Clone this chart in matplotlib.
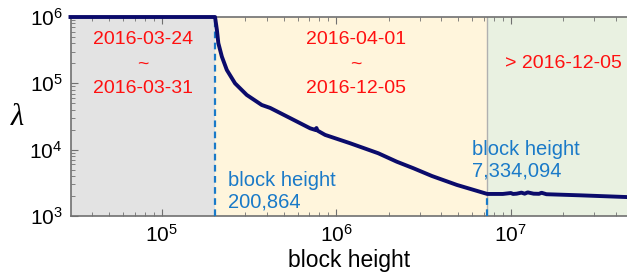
import matplotlib.pyplot as plt
import numpy as np

# lambda vs block height
block_height = [3.0e4, 2.0e5, 2.02e5, 2.07e5, 2.11e5, 2.21e5, 2.36e5, 2.63e5,
                3.07e5, 3.74e5, 4.18e5, 5.43e5, 7.08e5, 7.6e5, 7.7e5, 7.8e5,
                8.63e5, 1.2e6, 1.74e6, 2.22e6, 2.77e6, 3.53e6, 4.91e6, 7.33e6,
                9.0e6, 1.0e7, 1.03e7, 1.08e7, 1.15e7, 1.2e7, 1.25e7, 1.35e7,
                1.45e7, 1.5e7, 1.6e7, 2.5e7, 4.63e7]
lam = [1.0e6, 1.0e6, 1.0e6, 6.39e5, 4.03e5, 2.53e5, 1.59e5, 1.0e5,
       6.68e4, 4.72e4, 4.26e4, 3.0e4, 2.1e4, 1.98e4, 2.12e4, 1.94e4,
       1.67e4, 1.25e4, 8.83e3, 6.59e3, 5.24e3, 4.01e3, 2.94e3, 2.15e3,
       2.15e3, 2.22e3, 2.15e3, 2.17e3, 2.25e3, 2.17e3, 2.27e3, 2.17e3,
       2.16e3, 2.24e3, 2.13e3, 2.05e3, 1.93e3]

boundaries = [200864, 7334094]
boundary_labels = ['block height\n200,864', 'block height\n7,334,094']
period_labels = ['2016-03-24\n~\n2016-03-31', '2016-04-01\n~\n2016-12-05', '> 2016-12-05']

x_min, x_max = 3.02e4, 4.63e7
y_min, y_max = 1e3, 1e6

plt.rcParams['font.family'] = 'Liberation Sans'
plt.rcParams['mathtext.fontset'] = 'custom'
plt.rcParams['mathtext.rm'] = 'Liberation Sans'
plt.rcParams['mathtext.it'] = 'Liberation Sans:italic'

fig = plt.figure(figsize=(6.27, 2.77), dpi=100)
ax = fig.add_axes([0.1132, 0.2202, 0.8868, 0.7184])

# shaded periods
ax.axvspan(x_min, boundaries[0], color='#e3e3e3', lw=0)
ax.axvspan(boundaries[0], boundaries[1], color='#fff5dc', lw=0)
ax.axvspan(boundaries[1], x_max, color='#e9f1e1', lw=0)
ax.axvline(boundaries[1], color='#b0b0b0', lw=1)

ax.plot(block_height, lam, color='#0b0b6b', lw=2.8, zorder=5, clip_on=False,
        solid_joinstyle='round')

# dashed markers from bottom to the curve
for b in boundaries:
    yb = np.interp(np.log10(b), np.log10(block_height), np.log10(lam))
    ax.plot([b, b], [y_min, 10 ** yb], color='#1a7ac8', lw=1.6, ls=(0, (3, 2)), zorder=4)

ax.set_xscale('log')
ax.set_yscale('log')
ax.set_xlim(x_min, x_max)
ax.set_ylim(y_min, y_max)
ax.set_xticks([1e5, 1e6, 1e7])
ax.set_yticks([1e3, 1e4, 1e5, 1e6])

for side in ['left', 'bottom', 'top']:
    ax.spines[side].set_color('#707070')
    ax.spines[side].set_linewidth(1.2)
ax.spines['right'].set_visible(False)
ax.tick_params(which='both', direction='in', top=True, right=False, color='#707070')
ax.tick_params(which='major', length=5, labelsize=15, pad=6)
ax.tick_params(which='minor', length=3)

ax.set_xlabel('block height', fontsize=16.5, labelpad=2)
ax.set_ylabel('λ', fontsize=22, family='Liberation Serif', style='italic',
              rotation=0, va='center', ha='center')
ax.yaxis.set_label_coords(-0.097, 0.497)

# period labels (red) and boundary labels (blue)
tx = [0.1295, 0.512, 0.885]
for x, s in zip(tx, period_labels):
    ax.text(x, 0.764, s, transform=ax.transAxes, color='#ff1010', fontsize=14,
            ha='center', va='center', linespacing=1.55, zorder=6)

bx = [0.282, 0.722]
by = [0.123, 0.279]
for x, y, s in zip(bx, by, boundary_labels):
    ax.text(x, y, s, transform=ax.transAxes, color='#1a7ac8', fontsize=14.5,
            ha='left', va='center', linespacing=1.15, zorder=6)

plt.savefig('out.png', dpi=100)
